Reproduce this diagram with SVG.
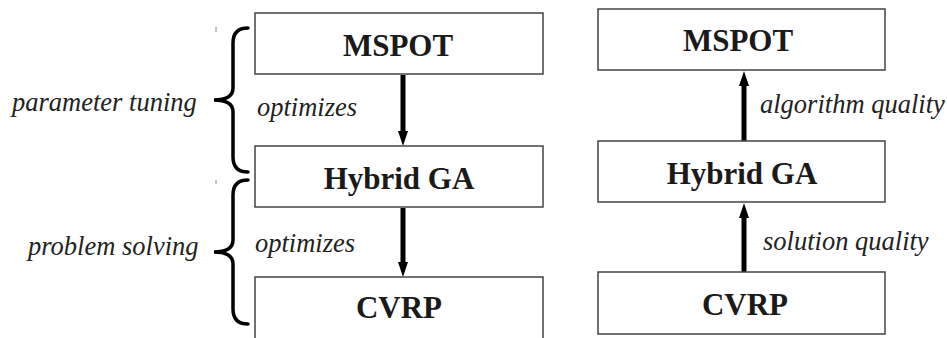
<svg xmlns="http://www.w3.org/2000/svg" width="947" height="338" viewBox="0 0 947 338">
<style>
.box{fill:#fff;stroke:#444;stroke-width:1.5}
.bt{font-family:"Liberation Serif",serif;font-weight:bold;font-size:31px;fill:#1a1a1a;text-anchor:middle}
.it{font-family:"Liberation Serif",serif;font-style:italic;font-size:26.5px;fill:#222}
.shaft{stroke:#000;stroke-width:5;fill:none}
.head{fill:#000}
.brace{fill:none;stroke:#000;stroke-width:3.5;stroke-linecap:round}
.tick{stroke:#888;stroke-width:1}
</style>
<rect width="947" height="338" fill="#fff"/>
<g id="braces">
<path class="brace" d="M248 28 Q233 28 233 43 L233 88 Q233 100 214 100 Q233 100 233 112 L233 157 Q233 172 248 172"/>
<path class="brace" d="M248 180 Q233 180 233 195 L233 240 Q233 252 214 252 Q233 252 233 264 L233 309 Q233 324 248 324"/>
<line class="tick" x1="216" y1="27" x2="216" y2="32"/>
<line class="tick" x1="216" y1="180" x2="216" y2="184"/>
<text class="it" x="12" y="111">parameter tuning</text>
<text class="it" x="28" y="255">problem solving</text>
</g>
<g id="connectors">
<line class="shaft" x1="403" y1="75" x2="403" y2="133"/>
<polygon class="head" points="398,131 408,131 403,146"/>
<line class="shaft" x1="403" y1="208" x2="403" y2="264"/>
<polygon class="head" points="398,262 408,262 403,277"/>
<line class="shaft" x1="744" y1="141" x2="744" y2="84"/>
<polygon class="head" points="739,86 749,86 744,71"/>
<line class="shaft" x1="744" y1="272" x2="744" y2="216"/>
<polygon class="head" points="739,218 749,218 744,203"/>
<text class="it" x="257" y="116">optimizes</text>
<text class="it" x="255" y="252">optimizes</text>
<text class="it" x="760" y="113">algorithm quality</text>
<text class="it" x="763" y="250">solution quality</text>
</g>
<g id="l-mspot"><rect class="box" x="255" y="13" width="288" height="61"/><text class="bt" x="398" y="56">MSPOT</text></g>
<g id="l-hybrid"><rect class="box" x="255" y="146" width="288" height="61"/><text class="bt" x="399" y="189">Hybrid GA</text></g>
<g id="l-cvrp"><rect class="box" x="255" y="277" width="288" height="70"/><text class="bt" x="399" y="318">CVRP</text></g>
<g id="r-mspot"><rect class="box" x="598" y="9" width="287" height="61"/><text class="bt" x="738" y="51">MSPOT</text></g>
<g id="r-hybrid"><rect class="box" x="598" y="141" width="287" height="61"/><text class="bt" x="742" y="184">Hybrid GA</text></g>
<g id="r-cvrp"><rect class="box" x="598" y="272" width="287" height="62"/><text class="bt" x="745" y="315">CVRP</text></g>
</svg>
